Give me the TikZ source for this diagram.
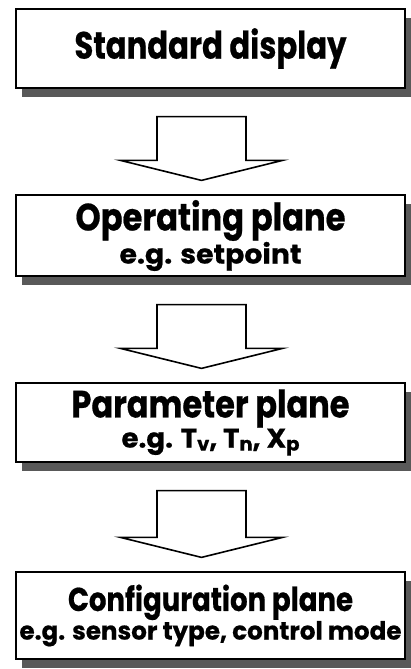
\documentclass[tikz,border=0pt]{standalone}
\usepackage{fontspec}
\setmainfont{Poppins}[BoldFeatures={FakeBold=0.6}]
\usetikzlibrary{calc,shadows}
\newcommand{\fitline}[3]{\resizebox{#1}{\height}{\fontsize{#2}{#2}\selectfont\bfseries #3}}
\newcommand{\sub}[1]{\raisebox{-3pt}{\fontsize{19}{19}\selectfont #1}}
\newcommand{\blockarrowpath}[2]{%
  \draw[blockarrow] ($(#1)+(-44.5,0)$) -- ($(#1)+(44.5,0)$) -- ($(#2)+(44.5,20)$)
    -- ($(#2)+(81,20)$) -- (#2) -- ($(#2)+(-81,20)$) -- ($(#2)+(-44.5,20)$) -- cycle;}
\begin{document}
\begin{tikzpicture}[x=1pt,y=1pt,
  box/.style={draw=black, line width=1.2pt, fill=white, minimum width=389pt,
    align=center, inner sep=0pt,
    drop shadow={shadow xshift=6pt, shadow yshift=-9pt, fill=black!65, opacity=1}},
  blockarrow/.style={draw=black, line width=1.6pt, fill=white, line join=miter},
]
\useasboundingbox (0,0) rectangle (411,669);
\node[box, minimum height=79pt] (b1) at (210.5,620.5)
  {\fitline{272pt}{38}{Standard display}};
\node[box, minimum height=81pt, font=\fontsize{26}{26}\selectfont] (b2) at (210.5,433.5)
  {\fitline{270pt}{38}{Operating plane}\\ \fitline{182pt}{27}{e.g. setpoint}};
\node[box, minimum height=79pt, font=\fontsize{28}{28}\selectfont] (b3) at (210.5,246.5)
  {\fitline{278pt}{38}{Parameter plane}\\ \fitline{178pt}{27}{e.g. T\sub{v}, T\sub{n}, X\sub{p}}};
\node[box, minimum height=87pt, font=\fontsize{24}{24}\selectfont] (b4) at (210.5,53.5)
  {\fitline{285pt}{33}{Configuration plane}\\ \fitline{382pt}{25}{e.g. sensor type, control mode}};
\coordinate (a1s) at ($(b1.south)+(-9,-28)$);
\coordinate (a1t) at ($(b2.north)+(-9,14)$);
\coordinate (a2s) at ($(b2.south)+(-9,-28)$);
\coordinate (a2t) at ($(b3.north)+(-9,14)$);
\coordinate (a3s) at ($(b3.south)+(-9,-28)$);
\coordinate (a3t) at ($(b4.north)+(-9,14)$);
\blockarrowpath{a1s}{a1t}
\blockarrowpath{a2s}{a2t}
\blockarrowpath{a3s}{a3t}
\end{tikzpicture}
\end{document}
